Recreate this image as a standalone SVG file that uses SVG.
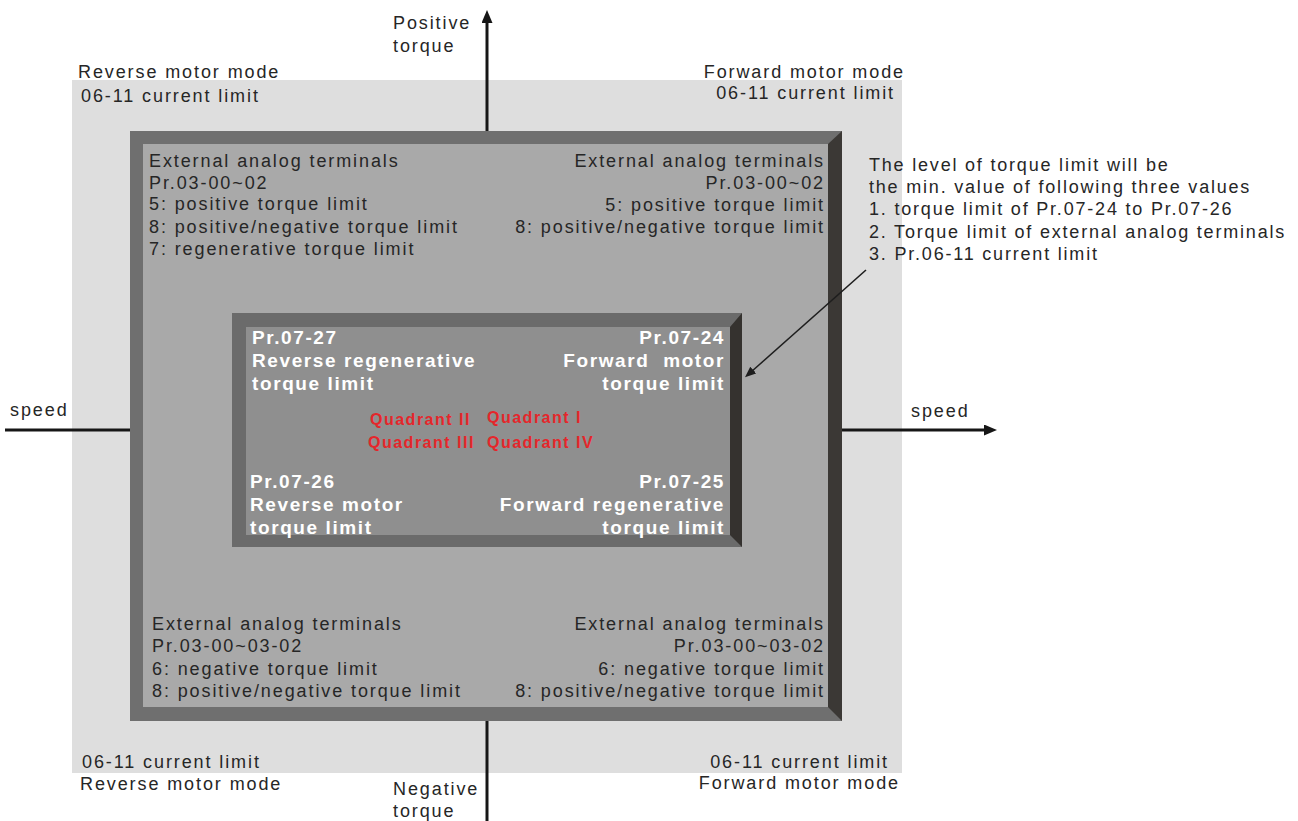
<svg xmlns="http://www.w3.org/2000/svg" width="1298" height="821" viewBox="0 0 1298 821">
<style>
text{font-family:"Liberation Sans",Arial,sans-serif;font-size:18px;letter-spacing:1.9px;fill:#262626}
.e{text-anchor:end}
.w{font-weight:bold;fill:#ffffff;font-size:19px;letter-spacing:1.6px}
.q{font-weight:bold;fill:#e5262b;font-size:16px;letter-spacing:1.5px}
.n{letter-spacing:1.8px}
.ax{stroke:#161616;stroke-width:3;fill:none}
.co{stroke:#1e1e1e;stroke-width:1.6;fill:none}
</style>
<defs>
<marker id="ah" markerUnits="userSpaceOnUse" markerWidth="14" markerHeight="12" refX="4" refY="5.5" orient="auto">
<path d="M0,0 L13,5.5 L0,11 z" fill="#161616"/>
</marker>
<marker id="ahs" markerUnits="userSpaceOnUse" markerWidth="12" markerHeight="10" refX="3" refY="4.5" orient="auto">
<path d="M0,0 L11,4.5 L0,9 z" fill="#1e1e1e"/>
</marker>
</defs>
<rect width="1298" height="821" fill="#ffffff"/>
<g id="current-limit-zone">
<rect x="72" y="80" width="830" height="693" fill="#dedede"/>
</g>
<g id="analog-terminal-frame">
<rect x="130" y="131" width="712" height="590" fill="#6f6f6f"/>
<polygon points="828,144 842,131 842,721 828,707" fill="#3b3835"/>
<rect x="143" y="144" width="685" height="563" fill="#a9a9a9"/>
</g>
<g id="parameter-frame">
<rect x="232" y="313" width="510" height="234" fill="#6b6b6b"/>
<polygon points="730,327 742,313 742,547 730,535" fill="#35322f"/>
<rect x="246" y="327" width="484" height="208" fill="#8f8f8f"/>
</g>
<g id="connectors">
<line class="ax" x1="487" y1="131" x2="487" y2="19" marker-end="url(#ah)"/>
<line class="ax" x1="487" y1="721" x2="487" y2="821"/>
<line class="ax" x1="5" y1="430" x2="130" y2="430"/>
<line class="ax" x1="842" y1="430" x2="988" y2="430" marker-end="url(#ah)"/>
<line class="co" x1="866" y1="270" x2="751" y2="372" marker-end="url(#ahs)"/>
</g>
<g id="axis-labels">
<text x="393" y="29">Positive</text>
<text x="393" y="52">torque</text>
<text x="393" y="795">Negative</text>
<text x="393" y="817">torque</text>
<text x="10" y="416">speed</text>
<text x="911" y="417">speed</text>
</g>
<g id="mode-labels">
<text x="78" y="78">Reverse motor mode</text>
<text x="81" y="102">06-11 current limit</text>
<text class="e" x="905" y="78">Forward motor mode</text>
<text class="e" x="895" y="99">06-11 current limit</text>
<text x="82" y="768">06-11 current limit</text>
<text x="80" y="790">Reverse motor mode</text>
<text class="e" x="889" y="768">06-11 current limit</text>
<text class="e" x="900" y="789">Forward motor mode</text>
</g>
<g id="analog-top-left">
<text x="149" y="167">External analog terminals</text>
<text x="149" y="189">Pr.03-00~02</text>
<text x="149" y="210">5: positive torque limit</text>
<text x="149" y="233">8: positive/negative torque limit</text>
<text x="149" y="255">7: regenerative torque limit</text>
</g>
<g id="analog-top-right">
<text class="e" x="825" y="167">External analog terminals</text>
<text class="e" x="825" y="189">Pr.03-00~02</text>
<text class="e" x="825" y="211">5: positive torque limit</text>
<text class="e" x="825" y="233">8: positive/negative torque limit</text>
</g>
<g id="analog-bottom-left">
<text x="152" y="630">External analog terminals</text>
<text x="152" y="652">Pr.03-00~03-02</text>
<text x="152" y="675">6: negative torque limit</text>
<text x="152" y="697">8: positive/negative torque limit</text>
</g>
<g id="analog-bottom-right">
<text class="e" x="825" y="630">External analog terminals</text>
<text class="e" x="825" y="652">Pr.03-00~03-02</text>
<text class="e" x="825" y="675">6: negative torque limit</text>
<text class="e" x="825" y="697">8: positive/negative torque limit</text>
</g>
<g id="pr-07-27">
<text class="w" x="252" y="344">Pr.07-27</text>
<text class="w" x="252" y="367">Reverse regenerative</text>
<text class="w" x="252" y="390">torque limit</text>
</g>
<g id="pr-07-24">
<text class="w e" x="725" y="344">Pr.07-24</text>
<text class="w e" x="725" y="367">Forward&#160; motor</text>
<text class="w e" x="725" y="390">torque limit</text>
</g>
<g id="pr-07-26">
<text class="w" x="250" y="488">Pr.07-26</text>
<text class="w" x="250" y="511">Reverse motor</text>
<text class="w" x="250" y="534">torque limit</text>
</g>
<g id="pr-07-25">
<text class="w e" x="725" y="488">Pr.07-25</text>
<text class="w e" x="725" y="511">Forward regenerative</text>
<text class="w e" x="725" y="534">torque limit</text>
</g>
<g id="quadrants">
<text class="q" x="370" y="425">Quadrant II</text>
<text class="q" x="487" y="423">Quadrant I</text>
<text class="q" x="368" y="448">Quadrant III</text>
<text class="q" x="487" y="448">Quadrant IV</text>
</g>
<g id="note">
<text class="n" x="869" y="171">The level of torque limit will be</text>
<text class="n" x="869" y="193">the min. value of following three values</text>
<text class="n" x="869" y="215">1. torque limit of Pr.07-24 to Pr.07-26</text>
<text class="n" x="869" y="238">2. Torque limit of external analog terminals</text>
<text class="n" x="869" y="260">3. Pr.06-11 current limit</text>
</g>
</svg>
